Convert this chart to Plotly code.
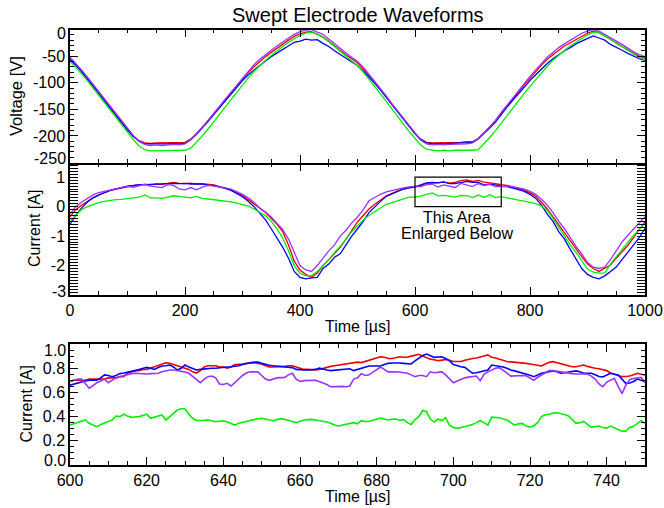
import plotly.graph_objects as go

# ---------------- data ----------------
t_coarse = list(range(0, 1001, 10))          # time [us], top & middle panels
t_fine = list(range(600, 751))               # time [us], bottom panel

volt_red = [-55,-66,-78,-91,-105,-119,-133,-147,-161,-175,
            -188,-200,-209,-213,-214,-213,-213,-212,-213,-213,
            -212,-206,-196,-184,-171,-158,-145,-132,-119,-106,
            -93,-81,-70,-60,-51,-43,-35,-27,-20,-13,
            -8,-5,-4,-9,-14,-22,-31,-40,-48,-55,
            -63,-74,-86,-99,-113,-127,-141,-155,-169,-182,
            -195,-206,-212,-213,-213,-212,-213,-212,-212,-211,
            -211,-205,-194,-183,-172,-157,-143,-130,-117,-104,
            -91,-79,-67,-56,-47,-39,-31,-25,-19,-12,
            -7,-3,-6,-12,-19,-26,-32,-38,-45,-50,
            -54]
volt_blue = [-57,-67,-79,-92,-106,-120,-134,-148,-162,-176,
             -189,-201,-210,-215,-215,-216,-215,-215,-214,-215,
             -214,-207,-197,-186,-173,-160,-147,-134,-121,-108,
             -96,-85,-76,-67,-59,-51,-44,-37,-30,-24,
             -22,-18,-20,-19,-26,-32,-40,-47,-54,-61,
             -68,-78,-89,-101,-114,-128,-142,-156,-170,-183,
             -196,-207,-213,-215,-214,-215,-214,-214,-213,-213,
             -212,-206,-196,-185,-174,-159,-146,-133,-120,-108,
             -96,-85,-74,-64,-55,-47,-40,-34,-27,-22,
             -17,-12,-16,-20,-28,-33,-39,-45,-50,-55,
             -58]
volt_purple = [-52,-63,-76,-89,-103,-117,-131,-145,-159,-173,
               -186,-199,-210,-216,-218,-217,-218,-217,-216,-217,
               -215,-207,-196,-184,-171,-157,-144,-131,-118,-105,
               -91,-78,-66,-56,-47,-39,-31,-23,-16,-9,
               -4,-1,0,-5,-9,-18,-27,-36,-44,-52,
               -60,-71,-84,-97,-111,-125,-140,-154,-168,-182,
               -196,-208,-215,-217,-216,-217,-216,-216,-215,-215,
               -213,-206,-195,-183,-171,-156,-142,-128,-115,-102,
               -88,-76,-63,-52,-43,-34,-27,-20,-13,-7,
               -3,0,-3,-9,-15,-22,-28,-35,-42,-47,
               -51]
volt_green = [-60,-71,-83,-96,-110,-124,-138,-152,-166,-180,
              -194,-207,-219,-226,-228,-228,-227,-228,-227,-228,
              -227,-223,-212,-200,-187,-174,-160,-146,-132,-118,
              -104,-91,-79,-68,-58,-49,-40,-32,-24,-17,
              -11,-7,-5,-9,-15,-23,-32,-42,-51,-59,
              -68,-80,-93,-107,-121,-135,-150,-164,-178,-192,
              -205,-217,-225,-227,-228,-227,-228,-227,-227,-228,
              -227,-226,-215,-203,-190,-176,-160,-146,-133,-120,
              -107,-94,-81,-69,-58,-48,-39,-31,-24,-17,
              -10,-5,-6,-12,-18,-26,-33,-40,-46,-52,
              -57]

curr_red = [-0.35,-0.10,0.05,0.18,0.30,0.40,0.48,0.55,0.60,0.64,
            0.68,0.71,0.73,0.76,0.74,0.77,0.76,0.80,0.82,0.79,
            0.78,0.80,0.77,0.78,0.75,0.74,0.68,0.64,0.57,0.47,
            0.38,0.24,0.08,-0.05,-0.20,-0.40,-0.60,-0.85,-1.30,-1.85,
            -2.15,-2.30,-2.40,-2.25,-2.00,-1.80,-1.60,-1.38,-1.10,-0.80,
            -0.52,-0.30,-0.08,0.08,0.22,0.36,0.45,0.54,0.60,0.65,
            0.69,0.72,0.79,0.80,0.81,0.835,0.80,0.825,0.885,0.91,
            0.855,0.89,0.835,0.818,0.78,0.744,0.72,0.67,0.62,0.56,
            0.47,0.35,0.15,-0.08,-0.35,-0.62,-0.90,-1.20,-1.45,-1.70,
            -1.95,-2.10,-2.20,-2.10,-1.98,-1.75,-1.55,-1.32,-1.05,-0.80,
            -0.51]
curr_blue = [-0.60,-0.30,-0.05,0.15,0.30,0.40,0.48,0.55,0.60,0.66,
             0.70,0.72,0.75,0.75,0.76,0.76,0.78,0.80,0.79,0.78,
             0.79,0.77,0.76,0.77,0.73,0.72,0.66,0.62,0.55,0.45,
             0.34,0.18,0.00,-0.22,-0.45,-0.75,-1.05,-1.38,-1.75,-2.20,
             -2.40,-2.45,-2.42,-2.40,-2.10,-1.95,-1.72,-1.60,-1.30,-1.00,
             -0.75,-0.50,-0.20,0.00,0.18,0.35,0.43,0.52,0.60,0.64,
             0.66,0.74,0.807,0.826,0.807,0.84,0.785,0.785,0.818,0.86,
             0.83,0.826,0.742,0.767,0.74,0.69,0.68,0.64,0.58,0.52,
             0.42,0.28,0.05,-0.25,-0.50,-0.85,-1.10,-1.45,-1.80,-2.10,
             -2.30,-2.40,-2.45,-2.35,-2.20,-2.05,-1.80,-1.55,-1.30,-1.05,
             -0.74]
curr_purple = [-0.25,0.00,0.15,0.28,0.40,0.48,0.52,0.58,0.62,0.66,
               0.70,0.66,0.70,0.76,0.70,0.68,0.65,0.75,0.72,0.60,
               0.57,0.65,0.57,0.66,0.72,0.70,0.68,0.64,0.60,0.52,
               0.42,0.30,0.15,-0.05,-0.18,-0.35,-0.55,-0.78,-1.10,-1.55,
               -2.00,-2.15,-2.20,-2.00,-1.75,-1.50,-1.30,-1.00,-0.80,-0.55,
               -0.35,-0.10,0.20,0.32,0.42,0.50,0.55,0.60,0.64,0.67,
               0.69,0.68,0.752,0.768,0.665,0.74,0.69,0.653,0.79,0.73,
               0.68,0.785,0.72,0.758,0.685,0.68,0.70,0.68,0.65,0.60,
               0.52,0.42,0.25,0.05,-0.20,-0.50,-0.75,-1.05,-1.35,-1.60,
               -1.90,-2.05,-2.10,-2.05,-1.80,-1.50,-1.20,-0.98,-0.75,-0.55,
               -0.34]
curr_green = [-0.50,-0.30,-0.10,0.00,0.08,0.14,0.18,0.22,0.24,0.25,
              0.27,0.30,0.32,0.40,0.30,0.30,0.28,0.32,0.37,0.35,
              0.33,0.30,0.35,0.28,0.26,0.24,0.22,0.20,0.16,0.12,
              0.08,0.02,-0.08,-0.20,-0.30,-0.50,-0.75,-1.07,-1.50,-2.00,
              -2.26,-2.35,-2.35,-2.20,-2.00,-1.80,-1.55,-1.35,-1.10,-0.85,
              -0.65,-0.45,-0.30,-0.18,-0.05,0.08,0.14,0.20,0.27,0.32,
              0.33,0.36,0.42,0.465,0.366,0.386,0.36,0.322,0.38,0.375,
              0.31,0.395,0.315,0.405,0.305,0.344,0.30,0.25,0.22,0.19,
              0.15,0.10,0.02,-0.12,-0.40,-0.70,-1.00,-1.30,-1.55,-1.85,
              -2.12,-2.22,-2.26,-2.25,-1.95,-1.70,-1.45,-1.22,-0.98,-0.78,
              -0.57]

zoom_red = [0.69,0.70,0.70,0.70,0.70,0.71,0.71,0.71,0.71,0.71,
            0.72,0.72,0.72,0.73,0.73,0.76,0.77,0.78,0.78,0.79,
            0.79,0.80,0.81,0.82,0.83,0.845,0.84,0.83,0.82,0.81,
            0.80,0.79,0.77,0.76,0.78,0.81,0.82,0.82,0.82,0.81,
            0.81,0.80,0.81,0.83,0.83,0.835,0.84,0.845,0.845,0.84,
            0.835,0.82,0.81,0.81,0.81,0.81,0.815,0.82,0.82,0.81,
            0.80,0.79,0.79,0.785,0.785,0.79,0.80,0.81,0.815,0.82,
            0.825,0.83,0.835,0.835,0.84,0.85,0.846,0.855,0.865,0.875,
            0.885,0.895,0.89,0.88,0.88,0.885,0.895,0.89,0.89,0.90,
            0.91,0.915,0.90,0.885,0.875,0.87,0.862,0.867,0.873,0.865,
            0.855,0.855,0.855,0.865,0.875,0.88,0.885,0.89,0.90,0.91,
            0.89,0.885,0.875,0.865,0.855,0.852,0.85,0.847,0.845,0.84,
            0.835,0.83,0.825,0.818,0.835,0.848,0.854,0.845,0.835,0.826,
            0.818,0.812,0.812,0.82,0.826,0.815,0.805,0.80,0.795,0.79,
            0.78,0.76,0.75,0.74,0.73,0.732,0.735,0.745,0.758,0.75,
            0.744]
zoom_blue = [0.66,0.67,0.68,0.69,0.695,0.70,0.70,0.70,0.72,0.745,
             0.74,0.73,0.74,0.755,0.76,0.765,0.77,0.78,0.79,0.80,
             0.807,0.80,0.79,0.805,0.818,0.82,0.826,0.81,0.785,0.80,
             0.826,0.81,0.80,0.785,0.79,0.795,0.80,0.80,0.80,0.805,
             0.807,0.81,0.812,0.815,0.82,0.83,0.84,0.845,0.85,0.851,
             0.84,0.83,0.825,0.82,0.818,0.815,0.813,0.81,0.805,0.79,
             0.785,0.785,0.785,0.785,0.79,0.80,0.79,0.785,0.78,0.782,
             0.785,0.79,0.792,0.795,0.78,0.79,0.80,0.81,0.818,0.818,
             0.818,0.818,0.83,0.84,0.843,0.846,0.843,0.84,0.838,0.835,
             0.86,0.885,0.905,0.917,0.905,0.89,0.893,0.895,0.88,0.86,
             0.83,0.82,0.812,0.807,0.78,0.758,0.762,0.77,0.775,0.785,
             0.826,0.822,0.815,0.81,0.80,0.785,0.778,0.77,0.762,0.755,
             0.742,0.73,0.745,0.758,0.765,0.77,0.778,0.77,0.758,0.762,
             0.767,0.772,0.778,0.77,0.758,0.758,0.758,0.745,0.732,0.728,
             0.74,0.758,0.75,0.744,0.71,0.675,0.678,0.69,0.71,0.70,
             0.69]
zoom_purple = [0.69,0.70,0.71,0.71,0.67,0.634,0.655,0.68,0.695,0.71,
               0.68,0.70,0.72,0.73,0.74,0.75,0.755,0.758,0.755,0.752,
               0.752,0.755,0.757,0.758,0.77,0.78,0.785,0.785,0.78,0.775,
               0.768,0.758,0.73,0.70,0.68,0.71,0.73,0.735,0.72,0.67,
               0.665,0.675,0.653,0.68,0.71,0.74,0.76,0.77,0.77,0.77,
               0.74,0.71,0.70,0.712,0.72,0.722,0.724,0.745,0.758,0.71,
               0.69,0.697,0.70,0.70,0.70,0.69,0.68,0.665,0.647,0.65,
               0.653,0.65,0.647,0.653,0.71,0.72,0.755,0.74,0.745,0.765,
               0.79,0.81,0.79,0.77,0.77,0.77,0.768,0.763,0.758,0.745,
               0.73,0.74,0.74,0.73,0.77,0.763,0.767,0.77,0.745,0.71,
               0.68,0.695,0.708,0.72,0.726,0.732,0.735,0.697,0.75,0.77,
               0.785,0.80,0.805,0.785,0.76,0.735,0.737,0.74,0.74,0.737,
               0.72,0.70,0.725,0.744,0.765,0.78,0.78,0.775,0.765,0.76,
               0.758,0.755,0.752,0.752,0.752,0.752,0.735,0.71,0.67,0.647,
               0.685,0.70,0.716,0.65,0.59,0.66,0.705,0.715,0.72,0.724,
               0.68]
zoom_green = [0.33,0.34,0.35,0.36,0.372,0.345,0.33,0.317,0.335,0.35,
              0.36,0.372,0.405,0.40,0.42,0.405,0.394,0.397,0.40,0.41,
              0.42,0.386,0.394,0.405,0.413,0.372,0.40,0.432,0.455,0.465,
              0.465,0.42,0.386,0.368,0.366,0.37,0.372,0.365,0.358,0.362,
              0.366,0.355,0.343,0.33,0.345,0.355,0.36,0.368,0.377,0.382,
              0.386,0.378,0.37,0.366,0.375,0.383,0.378,0.372,0.36,0.35,
              0.36,0.372,0.375,0.377,0.372,0.368,0.362,0.355,0.345,0.33,
              0.322,0.328,0.335,0.345,0.35,0.34,0.366,0.36,0.36,0.37,
              0.38,0.388,0.38,0.372,0.378,0.38,0.37,0.375,0.35,0.335,
              0.375,0.40,0.45,0.44,0.38,0.355,0.38,0.366,0.39,0.33,
              0.31,0.303,0.31,0.317,0.325,0.335,0.35,0.366,0.35,0.33,
              0.395,0.395,0.39,0.38,0.372,0.35,0.33,0.34,0.344,0.32,
              0.315,0.325,0.35,0.40,0.415,0.42,0.43,0.432,0.428,0.418,
              0.405,0.375,0.344,0.35,0.36,0.335,0.311,0.318,0.322,0.31,
              0.305,0.322,0.31,0.295,0.28,0.28,0.311,0.32,0.345,0.366,
              0.344]

volt_ticks = [0, -50, -100, -150, -200, -250]
curr_ticks = [1, 0, -1, -2, -3]
zoom_curr_ticks = [0.0, 0.2, 0.4, 0.6, 0.8, 1.0]
time_ticks = [0, 200, 400, 600, 800, 1000]
zoom_time_ticks = [600, 620, 640, 660, 680, 700, 720, 740]

# ---------------- styling ----------------
FONT = "Liberation Sans"
W, H = 664, 508
COLORS = {"red": "#EE0000", "blue": "#0000FF", "purple": "#9933FF", "green": "#00EE00"}
ORDER = ["red", "blue", "purple", "green"]

X0, X1 = 70, 645
PANELS = {"top": (29.5, 162.5), "mid": (162.5, 295), "bot": (344, 465)}
fmt_int = lambda v: "%d" % v


def ydom(p):
    a, b = PANELS[p]
    return [1 - b / H, 1 - a / H]


def axis(rng, tickvals, ticktext, minor_tick0, minor_dtick, showlabels, domain, anchor,
         showline=True, mirror="allticks", **extra):
    d = dict(range=rng, domain=domain, anchor=anchor, automargin=False,
             showline=showline, linecolor="black", linewidth=1.5, mirror=mirror,
             ticks="inside", ticklen=8, tickwidth=1, tickcolor="black",
             tickmode="array", tickvals=tickvals, ticktext=ticktext,
             showticklabels=showlabels,
             tickfont=dict(family=FONT, size=16, color="black"),
             showgrid=False, zeroline=False,
             minor=dict(tickmode="linear", tick0=minor_tick0, dtick=minor_dtick, ticks="inside",
                        ticklen=4, tickwidth=1, tickcolor="black", showgrid=False))
    d.update(extra)
    return d


def end_blank(vals, texts, blanks):
    return [("" if v in blanks else t) for v, t in zip(vals, texts)]


fig = go.Figure()

volt = {"red": volt_red, "blue": volt_blue, "purple": volt_purple, "green": volt_green}
curr = {"red": curr_red, "blue": curr_blue, "purple": curr_purple, "green": curr_green}
zoom = {"red": zoom_red, "blue": zoom_blue, "purple": zoom_purple, "green": zoom_green}

for c in ORDER:
    fig.add_trace(go.Scatter(x=t_coarse, y=volt[c], mode="lines", xaxis="x", yaxis="y",
                             line=dict(color=COLORS[c], width=1.3), showlegend=False))
for c in ORDER:
    fig.add_trace(go.Scatter(x=t_coarse, y=curr[c], mode="lines", xaxis="x2", yaxis="y2",
                             line=dict(color=COLORS[c], width=1.3), showlegend=False))
for c in ORDER:
    fig.add_trace(go.Scatter(x=t_fine, y=zoom[c], mode="lines", xaxis="x3", yaxis="y3",
                             line=dict(color=COLORS[c], width=1.6), showlegend=False))
# empty trace so the tick-only axis over the middle panel's top edge is drawn
fig.add_trace(go.Scatter(x=[None], y=[None], mode="lines", xaxis="x4", yaxis="y2",
                         showlegend=False, hoverinfo="skip"))

xdom = [X0 / W, X1 / W]
volt_text = end_blank(volt_ticks, [fmt_int(v) for v in volt_ticks], [0, -250])
curr_text = end_blank(curr_ticks, [fmt_int(v) for v in curr_ticks], [-3])
zc_text = end_blank(zoom_curr_ticks, ["%.1f" % v for v in zoom_curr_ticks], [0.0, 1.0])

fig.update_layout(
    width=W, height=H, autosize=False,
    margin=dict(l=0, r=0, t=0, b=0, pad=0, autoexpand=False),
    paper_bgcolor="white", plot_bgcolor="white", showlegend=False,
    xaxis=axis([0, 1000], time_ticks, [fmt_int(v) for v in time_ticks],
               0, 50, False, xdom, "y"),
    yaxis=axis([-250, 0], volt_ticks, volt_text, 0, 10, True, ydom("top"), "x"),
    xaxis2=axis([0, 1000], time_ticks, [fmt_int(v) for v in time_ticks],
                0, 50, True, xdom, "y2", mirror=False),
    xaxis4=axis([0, 1000], time_ticks, [fmt_int(v) for v in time_ticks],
                0, 50, False, xdom, "y2", showline=False, mirror=False,
                side="top", overlaying="x2"),
    yaxis2=axis([-3, 1.5], curr_ticks, curr_text, 0, 0.1, True, ydom("mid"), "x2"),
    xaxis3=axis([600, 750], zoom_time_ticks, [fmt_int(v) for v in zoom_time_ticks],
                600, 5, True, xdom, "y3"),
    yaxis3=axis([0, 1], zoom_curr_ticks, zc_text, 0, 0.05, True, ydom("bot"), "x3"),
)

# box marking the enlarged region
fig.add_shape(type="rect", xref="x2", yref="y2", x0=t_fine[0], x1=t_fine[-1], y0=0, y1=1,
              line=dict(color="black", width=1.2), fillcolor="rgba(0,0,0,0)")


def ann(text, px, py, size=16, angle=0):
    fig.add_annotation(text=text, x=px / W, y=1 - py / H, xref="paper", yref="paper",
                       showarrow=False, textangle=angle, xanchor="center", yanchor="middle",
                       font=dict(family=FONT, size=size, color="black"))


def end_label(text, yref, yval, shift):
    # end-of-axis tick labels, nudged inward as in the original
    fig.add_annotation(text=text, x=X0 / W, xref="paper", xanchor="right", xshift=-2,
                       y=yval, yref=yref, yanchor="middle", yshift=shift,
                       showarrow=False, font=dict(family=FONT, size=16, color="black"))


end_label(fmt_int(volt_ticks[0]), "y", volt_ticks[0], -3.5)
end_label(fmt_int(volt_ticks[-1]), "y", volt_ticks[-1], 4)
end_label(fmt_int(curr_ticks[-1]), "y2", curr_ticks[-1], 4)
end_label("%.1f" % zoom_curr_ticks[-1], "y3", zoom_curr_ticks[-1], -6)
end_label("%.1f" % zoom_curr_ticks[0], "y3", zoom_curr_ticks[0], 5)

ann("Swept Electrode Waveforms", 357.5, 15, size=20)
ann("Voltage [V]", 16, 96, size=16.5, angle=-90)
ann("Current [A]", 34, 229, angle=-90)
ann("Time [µs]", 357.5, 326)
ann("Current [A]", 26, 404.5, angle=-90)
ann("Time [µs]", 357.5, 496)
ann("This Area", 457, 217.5)
ann("Enlarged Below", 457, 233.5)

fig.write_html("out.html")
